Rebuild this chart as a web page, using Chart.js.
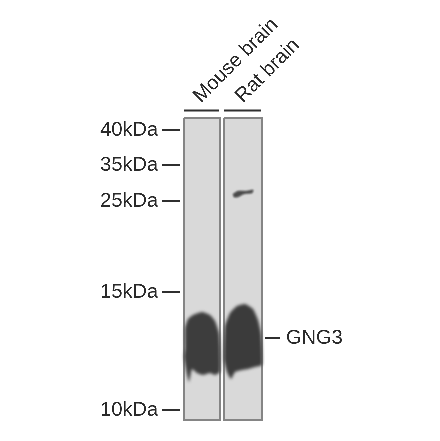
<!DOCTYPE html>
<html><head><meta charset="utf-8">
<style>html,body{margin:0;padding:0;background:#fff}canvas{display:block;filter:blur(0.5px)}</style>
<script src="https://cdn.jsdelivr.net/npm/chart.js@4"></script></head>
<body><canvas id="c" style="width:440px;height:441px"></canvas>
<script>
const laneNames = ["Mouse brain", "Rat brain"];
const laneTickX = [214, 256];
const ladderLabels = ["40kDa", "35kDa", "25kDa", "15kDa", "10kDa"];
const ladderY = [130, 165, 201, 292, 410];
const targetLabel = ["GNG3"];
const targetY = [338];

const lane1X = [184, 220, 220, 184];
const lane2X = [224, 262, 262, 224];
const laneY = [118, 118, 420, 420];
const rule1X = [184, 219];
const rule2X = [224, 261];
const ruleY = [110.5, 110.5];

const mouseBandX = [185,185,188,193,202,210,215,219,220,220,215,210,203,197,192,189,187,184];
const mouseBandY = [348,328,319,315,312,315,321,333,347,372,375,373,375,373,369,382,375,357];
const ratBandX = [224,225,230,237,245,253,258,261,262,262,255,248,242,235,231,227,224];
const ratBandY = [347,326,313,306,304,309,320,333,347,365,367,369,370,372,379,372,360];
const faintBandX = [233,238,246,253,252,244,238,234];
const faintBandY = [194,191,191,190,193,194,197,197];

const DPR = 3;
const pts = (xs, ys) => xs.map((x, i) => ({x, y: ys[i]}));
const closed = (xs, ys) => pts(xs, ys).concat([{x: xs[0], y: ys[0]}]);
const shape = (data, fill, stroke, bw, tension, order) => ({
  data, showLine: true, fill: 'shape', backgroundColor: fill, borderColor: stroke,
  borderWidth: bw, pointRadius: 0, tension, order, borderJoinStyle: 'round'
});

const softBands = {
  id: 'softBands',
  beforeDatasetsDraw(chart) { chart.ctx.filter = 'none'; },
  afterDatasetDraw(chart, args) {
    const next = chart.data.datasets.find(d => d.order === chart.data.datasets[args.index].order - 1);
    chart.ctx.filter = next && next.soften ? 'blur(' + next.soften * DPR + 'px)' : 'none';
  },
  afterDatasetsDraw(chart) { chart.ctx.filter = 'none'; }
};

const lane1 = shape(closed(lane1X, laneY), '#d9d9d9', '#858585', 2, 0, 8);
const lane2 = shape(closed(lane2X, laneY), '#d9d9d9', '#858585', 2, 0, 7);
const faint = shape(closed(faintBandX, faintBandY), '#4a4a4a', '#6a6a6a', 0.5, 0.3, 6); faint.soften = 0.8;
const mouse = shape(closed(mouseBandX, mouseBandY), '#3d3d3d', '#3d3d3d', 0, 0.15, 5); mouse.soften = 1.6;
const rat = shape(closed(ratBandX, ratBandY), '#3b3b3b', '#3b3b3b', 0, 0.15, 4); rat.soften = 1.6;
const rule = (xs, o) => ({data: pts(xs, ruleY), showLine: true, borderColor: '#2f2f2f', borderWidth: 2, pointRadius: 0, fill: false, order: o});
const noPad = s => { s.paddingTop = s.paddingBottom = s.paddingLeft = s.paddingRight = 0; };
const cv = document.getElementById('c');
cv.width = 440; cv.height = 441;

new Chart(cv, {
  type: 'scatter',
  data: {datasets: [lane1, lane2, faint, mouse, rat, rule(rule1X, 3), rule(rule2X, 2)]},
  plugins: [softBands],
  options: {
    responsive: false, animation: false, devicePixelRatio: DPR,
    layout: {padding: {left: 0, right: 0, top: 0, bottom: 16}},
    plugins: {legend: {display: false}, tooltip: {enabled: false}},
    scales: {
      x: {
        type: 'linear', position: 'top', min: 180, max: 265,
        border: {display: false},
        grid: {display: false},
        afterBuildTicks(s) { s.ticks = laneTickX.map(value => ({value})); },
        afterFit(s) { s.height = 105; noPad(s); },
        ticks: {
          autoSkip: false, minRotation: 45, maxRotation: 45, padding: -11, color: '#2a2a2a',
          font: {family: 'Liberation Sans', size: 20},
          callback(v) { return laneNames[laneTickX.indexOf(v)]; }
        }
      },
      y: {
        type: 'linear', position: 'left', reverse: true, min: 105, max: 425,
        border: {display: false},
        grid: {drawOnChartArea: false, drawTicks: true, tickLength: 18, tickColor: '#2f2f2f', tickWidth: 2},
        afterBuildTicks(s) { s.ticks = ladderY.map(value => ({value})); },
        afterFit(s) { s.width = 180; noPad(s); },
        ticks: {
          autoSkip: false, padding: 4, color: '#2a2a2a',
          font: {family: 'Liberation Sans', size: 20},
          callback(v) { return ladderLabels[ladderY.indexOf(v)]; }
        }
      },
      y2: {
        type: 'linear', position: 'right', reverse: true, min: 105, max: 425,
        border: {display: false},
        grid: {drawOnChartArea: false, drawTicks: true, tickLength: 15, tickColor: '#2f2f2f', tickWidth: 2},
        afterBuildTicks(s) { s.ticks = targetY.map(value => ({value})); },
        afterFit(s) { s.width = 175; noPad(s); },
        ticks: {
          autoSkip: false, padding: 6, color: '#2a2a2a',
          font: {family: 'Liberation Sans', size: 20},
          callback(v) { return targetLabel[targetY.indexOf(v)]; }
        }
      }
    }
  }
});
</script></body></html>
